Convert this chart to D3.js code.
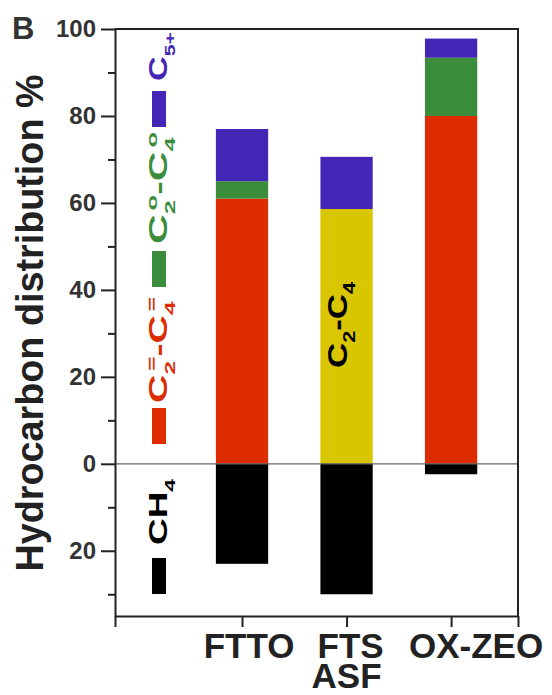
<!DOCTYPE html>
<html>
<head>
<meta charset="utf-8">
<script src="https://cdn.jsdelivr.net/npm/d3@7"></script>
<style>
  body { margin: 0; background: #fff; }
  svg { display: block; font-family: "Liberation Sans", Arial, Helvetica, sans-serif; }
</style>
</head>
<body>
<svg id="chart"></svg>
<script>
// values (percent)
const categories = ["FTTO", "FTS", "OX-ZEO"];
const categoryLines2 = ["", "ASF", ""];
const ch4 = [23, 30, 2.4];
const olefins = [61, 0, 80];      // C2=-C4=
const lumpedC2C4 = [0, 58.6, 0];  // C2-C4 (ASF)
const paraffins = [4, 0, 13.4];   // C2o-C4o
const c5plus = [12, 12, 4.4];     // C5+
const majorTicks = [-20, 0, 20, 40, 60, 80, 100];
const minorTicks = [-30, -10, 10, 30, 50, 70, 90];

const colors = {
    olefins: "#dc2c00",
    lumped: "#d9c600",
    paraffins: "#3b8d3b",
    c5plus: "#4426b6",
    ch4: "#000000"
};

const width = 552, height = 695;
const plot = { left: 115, right: 518, top: 29, bottom: 616 };

const svg = d3.select("#chart").attr("width", width).attr("height", height);

const table = categories.map((c, i) => ({
    pos: i + 1,
    olefins: olefins[i],
    lumped: lumpedC2C4[i],
    paraffins: paraffins[i],
    c5plus: c5plus[i],
    ch4: ch4[i]
}));

const x = d3.scaleLinear().domain([-0.215, 3.64]).range([plot.left, plot.right]);
const y = d3.scaleLinear().domain([-35, 100]).range([plot.bottom, plot.top]);
const barW = 0.5;

const keys = ["olefins", "lumped", "paraffins", "c5plus"];
const stacked = d3.stack().keys(keys)(table);

// bars
stacked.forEach(layer => {
    svg.append("g")
        .selectAll("rect")
        .data(layer)
        .join("rect")
        .attr("x", d => x(d.data.pos - barW / 2))
        .attr("width", x(barW) - x(0))
        .attr("y", d => y(d[1]))
        .attr("height", d => y(d[0]) - y(d[1]))
        .attr("fill", colors[layer.key]);
});

svg.append("g")
    .selectAll("rect")
    .data(table)
    .join("rect")
    .attr("x", d => x(d.pos - barW / 2))
    .attr("width", x(barW) - x(0))
    .attr("y", y(0))
    .attr("height", d => y(-d.ch4) - y(0))
    .attr("fill", colors.ch4);

// zero line
svg.append("line")
    .attr("x1", plot.left).attr("x2", plot.right)
    .attr("y1", y(0)).attr("y2", y(0))
    .attr("stroke", "#666").attr("stroke-width", 1.2);

// axes
const axisColor = "#222";
const yAxis = svg.append("g")
    .attr("transform", `translate(${plot.left},0)`)
    .call(d3.axisLeft(y).tickValues(majorTicks).tickSize(14).tickSizeOuter(0).tickPadding(5)
        .tickFormat(d => Math.abs(d)));
yAxis.selectAll("text")
    .attr("font-size", 24).attr("font-weight", "bold").attr("fill", "#333")
    .attr("font-family", "Liberation Sans, Arial, sans-serif");

const yMinor = svg.append("g")
    .attr("transform", `translate(${plot.left},0)`)
    .call(d3.axisLeft(y).tickValues(minorTicks).tickSize(7).tickSizeOuter(0).tickFormat(""));
yMinor.select(".domain").remove();

const xAxis = svg.append("g")
    .attr("transform", `translate(0,${plot.bottom})`)
    .call(d3.axisBottom(x).tickValues([x.domain()[0], 1, 2, 3, x.domain()[1]])
        .tickSize(11).tickSizeOuter(0).tickFormat(""));

svg.append("path")
    .attr("d", `M${plot.left},${plot.top}H${plot.right}V${plot.bottom}`)
    .attr("fill", "none");

svg.selectAll(".domain, .tick line, path[fill=none]")
    .attr("stroke", axisColor).attr("stroke-width", 2);

// category labels (second line kept in the same text element)
const labelShift = [7, 4, 25];
const catText = svg.append("g")
    .selectAll("text")
    .data(categories)
    .join("text")
    .attr("x", (d, i) => x(i + 1) + labelShift[i])
    .attr("y", 658)
    .attr("text-anchor", "middle")
    .attr("font-size", 35).attr("font-weight", "bold").attr("fill", "#222");

catText.append("tspan").text(d => d);
catText.filter((d, i) => categoryLines2[i])
    .append("tspan")
    .attr("x", (d, i) => x(categories.indexOf(d) + 1))
    .attr("dy", 30)
    .text(d => categoryLines2[categories.indexOf(d)]);

// y title and panel letter
svg.append("text")
    .attr("transform", "translate(43,323) rotate(-90)")
    .attr("text-anchor", "middle")
    .attr("font-size", 38).attr("font-weight", "bold").attr("fill", "#222")
    .attr("textLength", 497).attr("lengthAdjust", "spacingAndGlyphs")
    .text("Hydrocarbon distribution %");

svg.append("text")
    .attr("x", 12).attr("y", 39)
    .attr("font-size", 31).attr("font-weight", "bold").attr("fill", "#333")
    .text("B");

// rotated chemical labels: pieces are [text, "n"|"sub"|"sup"]
function chemLabel(parent, pieces, px, py, len, size, fill) {
    const t = parent.append("text")
        .attr("transform", `translate(${px},${py}) rotate(-90)`)
        .attr("font-size", size).attr("font-weight", "bold").attr("fill", fill)
        .attr("textLength", len).attr("lengthAdjust", "spacingAndGlyphs");
    let shift = 0;
    pieces.forEach(([txt, kind], k) => {
        const target = kind === "sub" ? size * 0.32 : kind === "sup" ? -size * 0.42 : 0;
        const ts = t.append("tspan")
            .attr("dy", target - shift)
            .attr("font-size", kind === "n" ? size : size * 0.62)
            .text(txt);
        if (kind === "sup" && k > 0 && pieces[k - 1][1] === "sub") ts.attr("dx", -size * 0.25);
        shift = target;
    });
    return t;
}

const legend = [
    { color: colors.c5plus, pieces: [["C", "n"], ["5+", "sub"]], sy: 91, ty: 81, len: 49 },
    { color: colors.paraffins, pieces: [["C", "n"], ["2", "sub"], ["o", "sup"], ["-C", "n"], ["4", "sub"], ["o", "sup"]], sy: 251, ty: 244, len: 112 },
    { color: colors.olefins, pieces: [["C", "n"], ["2", "sub"], ["=", "sup"], ["-C", "n"], ["4", "sub"], ["=", "sup"]], sy: 408, ty: 403, len: 106 },
    { color: colors.ch4, pieces: [["CH", "n"], ["4", "sub"]], sy: 558, ty: 545, len: 66 }
];

const lg = svg.append("g");
legend.forEach(e => {
    lg.append("rect")
        .attr("x", 152).attr("y", e.sy)
        .attr("width", 14).attr("height", 36)
        .attr("fill", e.color);
    chemLabel(lg, e.pieces, 167, e.ty, e.len, 25, e.color);
});

// label inside the ASF bar
chemLabel(svg, [["C", "n"], ["2", "sub"], ["-C", "n"], ["4", "sub"]], x(2) - 0, 368, 86, 27, "#000");
</script>
</body>
</html>
